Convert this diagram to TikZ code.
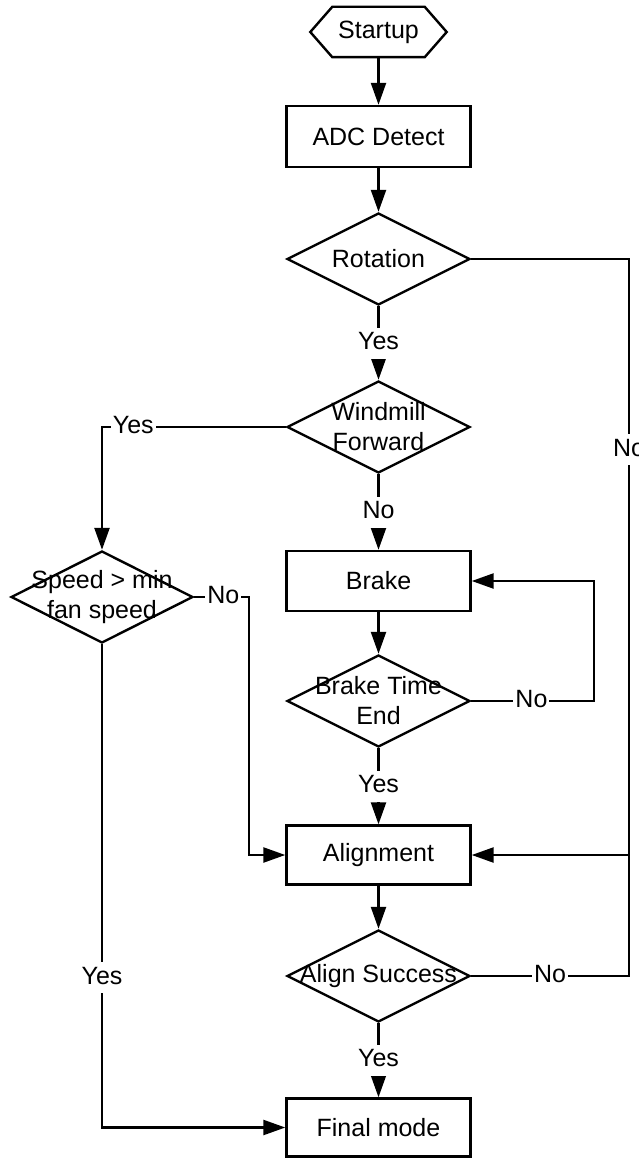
\documentclass[tikz,border=0pt]{standalone}
\usepackage{fontspec}
\setmainfont{Liberation Sans}
\usetikzlibrary{arrows.meta,shapes.geometric,calc}
\begin{document}
\begin{tikzpicture}[x=1pt,y=-1pt,
  every node/.style={font=\fontsize{25pt}{30pt}\selectfont},
  conn/.style={line width=2.4pt},
  arr/.style={conn,-{Triangle[length=22pt,width=15pt]}},
  boxnode/.style={draw,line width=2.4pt,minimum width=184pt,minimum height=60pt,inner sep=0pt},
  decision/.style={diamond,draw,line width=2.4pt,minimum width=183pt,minimum height=92pt,inner sep=0pt},
  dtext/.style={align=center,inner sep=0pt},
  lbl/.style={fill=white,inner xsep=2pt,inner ysep=3pt,text height=19pt,text depth=6pt}
]
\useasboundingbox (0,0) rectangle (638,1158);

% nodes
\node[minimum width=92pt,minimum height=50pt,inner sep=0pt] (start) at (378.5,32) {Startup};
\draw[line width=2.4pt] (start.north west) -- (start.north east) -- ($(start.east)+(22pt,0)$)
  -- (start.south east) -- (start.south west) -- ($(start.west)+(-22pt,0)$) -- cycle;
\node[boxnode,minimum height=61pt] (adc) at (378.5,136.5) {ADC Detect};
\node[decision] (rot) at (378.5,259) {};
\node[dtext] at (rot.center) {Rotation};
\node[decision] (wind) at (378.5,427) {};
\node[dtext] at (wind.center) {Windmill\\Forward};
\node[boxnode] (brake) at (378.5,581) {Brake};
\node[decision] (bte) at (378.5,701) {};
\node[dtext] at (bte.center) {Brake Time\\End};
\node[boxnode,minimum height=59pt] (align) at (378.5,855) {Alignment};
\node[decision] (asucc) at (378.5,976) {};
\node[dtext] at (asucc.center) {Align Success};
\node[boxnode,minimum height=58pt] (final) at (378.5,1127.5) {Final mode};
\node[decision,minimum width=182pt] (speed) at (102,597) {};
\node[dtext] at (speed.center) {Speed > min\\fan speed};

\coordinate (rtop) at (629,259);
\coordinate (rbot) at (629,976);
\coordinate (rjoin) at (629,855);

% connectors
\draw[arr] (start.south) -- (adc.north);
\draw[arr] (adc.south) -- (rot.north);
\draw[arr] (rot.south) -- node[lbl]{Yes} (wind.north);
\draw[arr] (wind.west) -- node[lbl,pos=0.83]{Yes} (speed.north |- wind.west) -- (speed.north);
\draw[arr] (wind.south) -- node[lbl]{No} (brake.north);
\draw[arr] (speed.east) -- node[lbl,pos=0.53]{No} ++(55pt,0) |- (align.west);
\draw[arr] (speed.south) -- node[lbl,pos=0.69]{Yes} (speed.south |- final.west) -- (final.west);
\draw[arr] (brake.south) -- (bte.north);
\draw[arr] (bte.east) -- node[lbl,pos=0.49]{No} ++(123pt,0) |- (brake.east);
\draw[arr] (bte.south) -- node[lbl]{Yes} (align.north);
\draw[arr] (align.south) -- (asucc.north);
\draw[arr] (asucc.south) -- node[lbl]{Yes} (final.north);
\draw[conn] (rot.east) -- (rtop) -- node[lbl,pos=0.32]{No} (rjoin);
\draw[conn] (asucc.east) -- node[lbl,pos=0.5]{No} (rbot) -- (rjoin);
\draw[arr] (rjoin) -- (align.east);
\end{tikzpicture}
\end{document}
